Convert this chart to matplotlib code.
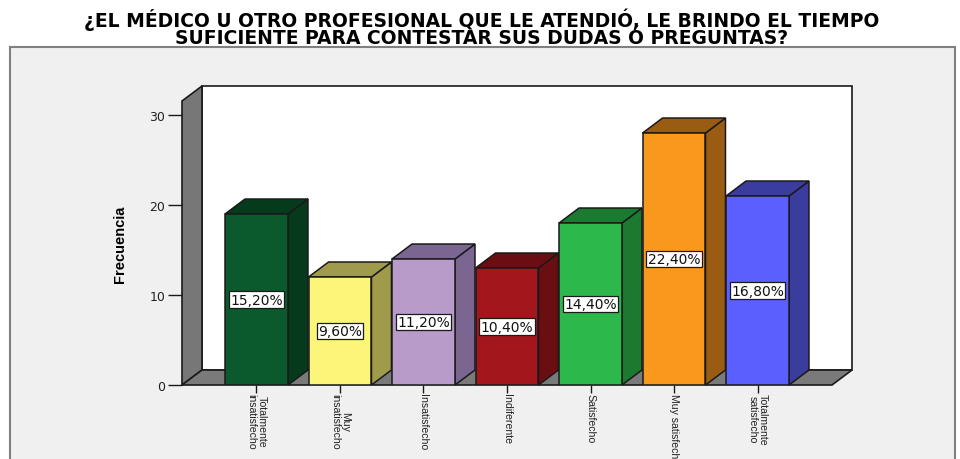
import matplotlib
matplotlib.use("Agg")
import matplotlib.pyplot as plt
from matplotlib.patches import Polygon, Rectangle

# Survey answers and counts
categories = ["Totalmente\ninsatisfecho", "Muy\ninsatisfecho", "Insatisfecho",
              "Indiferente", "Satisfecho", "Muy satisfecho", "Totalmente\nsatisfecho"]
frequencies = [19, 12, 14, 13, 18, 28, 21]
y_ticks = [0, 10, 20, 30]
title = ("¿EL MÉDICO U OTRO PROFESIONAL QUE LE ATENDIÓ, LE BRINDO EL TIEMPO\n"
         "SUFICIENTE PARA CONTESTAR SUS DUDAS Ó PREGUNTAS?")

front_colors = ["#0b5a2d", "#fbf67a", "#b89bc9", "#a3161b", "#2db84b", "#f8991e", "#5b5ffd"]
shade_colors = ["#063a1d", "#9f9b4a", "#7a6690", "#6b0e11", "#1c7a30", "#9a5c12", "#3a3c9e"]

NARROW = ["Liberation Sans", "DejaVu Sans"]
EDGE = "#1a1a1a"

W, H = 960, 460
fig = plt.figure(figsize=(W / 100, H / 100), dpi=100)
fig.patch.set_facecolor("white")

# light grey chart frame
fig.patches.append(Rectangle((10 / W, -0.05), 945 / W, (H - 48) / H + 0.05,
                             transform=fig.transFigure, facecolor="#f0f0f0",
                             edgecolor="#808080", lw=1.5, zorder=-2))

ax = fig.add_axes([182 / W, (H - 386) / H, 650 / W, 284 / H])
ax.patch.set_visible(False)
for s in ax.spines.values():
    s.set_visible(False)

n = len(categories)
xs = list(range(n))
margin = 0.892
x0, x1 = -margin, n - 1 + margin
y0, y1 = 0, 31.56
ax.set_xlim(x0, x1)
ax.set_ylim(y0, y1)

# depth of the 3-D extrusion, 20 px right and 15 px up
DX = 20 / (650 / (x1 - x0))
DY = 15 / (284 / (y1 - y0))
bw = 0.754

# back wall, side wall and floor
ax.add_patch(Rectangle((x0 + DX, DY), x1 - x0, y1, facecolor="white",
                       edgecolor=EDGE, lw=1.2, clip_on=False, zorder=0.5))
ax.add_patch(Polygon([(x0, 0), (x0, y1), (x0 + DX, y1 + DY), (x0 + DX, DY)],
                     closed=True, facecolor="#777777", edgecolor=EDGE, lw=1.2,
                     clip_on=False, zorder=1))
ax.add_patch(Polygon([(x0, 0), (x1, 0), (x1 + DX, DY), (x0 + DX, DY)],
                     closed=True, facecolor="#7a7a7a", edgecolor=EDGE, lw=1.2,
                     clip_on=False, zorder=1))

total = sum(frequencies)
for i, (x, h) in enumerate(zip(xs, frequencies)):
    l, r = x - bw / 2, x + bw / 2
    ax.add_patch(Polygon([(r, 0), (r, h), (r + DX, h + DY), (r + DX, DY)], closed=True,
                         facecolor=shade_colors[i], edgecolor=EDGE, lw=1.1,
                         clip_on=False, zorder=2))
    ax.add_patch(Polygon([(l, h), (r, h), (r + DX, h + DY), (l + DX, h + DY)], closed=True,
                         facecolor=shade_colors[i], edgecolor=EDGE, lw=1.1,
                         clip_on=False, zorder=2))
    ax.bar(x, h, width=bw, color=front_colors[i], edgecolor=EDGE, lw=1.1, zorder=3)
    pct = f"{h / total * 100:.2f}%".replace(".", ",")
    ax.text(x, h / 2, pct, ha="center", va="center", fontsize=10, color="#111111",
            zorder=5, bbox=dict(boxstyle="square,pad=0.1", facecolor="white",
                                edgecolor=EDGE, lw=0.9))

ax.set_yticks(y_ticks)
ax.tick_params(axis="y", length=10, width=1, pad=2, labelsize=9, color=EDGE,
               labelcolor="#222222")
ax.set_xticks(xs)
ax.set_xticklabels(categories, rotation=270, fontsize=7.6, family=NARROW,
                   linespacing=0.95, color="#222222")
ax.tick_params(axis="x", length=6, width=1, pad=0, color=EDGE)

ax.set_ylabel("Frecuencia", fontweight="bold", family=NARROW, fontsize=10.5)
ax.yaxis.set_label_coords(-0.085, 0.5)

fig.text(482 / W, 1 - 28.5 / H, title, ha="center", va="center",
         fontweight="bold", fontsize=13.5, linespacing=0.87, color="black")

fig.savefig("out.png", dpi=100)
